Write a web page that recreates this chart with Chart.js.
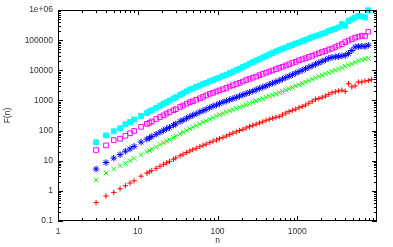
<!DOCTYPE html>
<html lang="en">
<head>
  <meta charset="UTF-8" />
  <title>F(n) vs n</title>
  <script src="https://cdn.jsdelivr.net/npm/chart.js"></script>
  <style>
    body {
      margin: 0;
      padding: 0;
      background: #fff;
    }
    .wrap {
      position: relative;
      width: 393px;
      height: 247px;
    }
  </style>
</head>
<body>
  <div class="wrap"><canvas id="fnChart"></canvas></div>
  <script>
    // window sizes n (shared by every series)
    const nValues = [3, 4, 5, 6, 7, 8, 9, 11, 13, 14, 15, 17, 19, 21, 23, 25, 28, 30, 34, 37,
      41, 45, 49, 54, 60, 66, 72, 80, 88, 97, 106, 117, 129, 142, 156, 172, 189, 208, 229, 252,
      277, 305, 335, 369, 406, 446, 491, 540, 594, 653, 719, 791, 870, 957, 1052, 1157, 1273, 1400, 1540, 1694,
      1864, 2050, 2255, 2481, 2729, 3002, 3302, 3632, 3995, 4395, 4834, 5318, 5850, 6435, 7078, 7786, 8564];

    const redF = [0.409, 0.673, 0.889, 1.17, 1.48, 1.82, 2.16, 3.08, 3.86, 4.26,
      4.66, 5.62, 6.54, 7.60, 8.51, 9.53, 11.2, 12.4, 14.6, 16.5,
      18.8, 21.0, 23.2, 25.9, 29.0, 32.5, 35.6, 39.9, 44.7, 49.2,
      53.9, 59.4, 66.1, 74.5, 82.8, 91.2, 101, 110, 123, 135,
      149, 163, 180, 194, 220, 238, 256, 276, 293, 333,
      382, 428, 468, 516, 578, 633, 708, 811, 944, 1096,
      1156, 1274, 1396, 1597, 1816, 1928, 2080, 2193, 2004, 3606,
      2812, 3033, 4093, 4093, 4416, 4584, 4943];

    const greenF = [2.31, 3.92, 5.30, 6.89, 8.20, 10.0, 12.0, 15.8, 19.8, 21.8,
      24.4, 29.0, 34.3, 39.3, 44.7, 50.0, 59.0, 65.0, 78.0, 87.9,
      102, 116, 130, 147, 167, 190, 211, 239, 270, 305,
      336, 371, 412, 451, 497, 544, 600, 656, 724, 793,
      875, 957, 1057, 1156, 1274, 1396, 1516, 1660, 1816, 2004,
      2208, 2455, 2705, 3033, 3319, 3690, 4093, 4550, 5058, 5623,
      6250, 6934, 7598, 8375, 9162, 10115, 11150, 12390, 13670, 14960,
      16520, 18490, 20700, 22290, 24040, 24950];

    const blueF = [5.30, 8.71, 12.2, 16.0, 20.7, 24.8, 29.9, 41.4, 51.9, 56.8,
      63.6, 75.6, 87.9, 102, 115, 128, 151, 167, 201, 225,
      256, 293, 321, 362, 412, 461, 505, 578, 647, 713,
      793, 875, 957, 1057, 1156, 1265, 1396, 1538, 1698, 1858,
      2049, 2276, 2512, 2748, 3033, 3396, 3741, 4159, 4584, 5140,
      5754, 6442, 7211, 8072, 9036, 10115, 11320, 12680, 14190, 15890,
      17790, 19910, 22290, 24950, 26920, 27990, 29040, 30130, 31330, 36390,
      45600, 59430, 61660, 63970, 61660, 68060];

    const magentaF = [22.7, 32.3, 48.1, 53.9, 67.6, 81.5, 97.7, 133, 167, 180,
      201, 243, 282, 321, 368, 412, 475, 516, 609, 682,
      782, 875, 944, 1057, 1183, 1324, 1472, 1660, 1790, 1986,
      2159, 2364, 2606, 2917, 3193, 3524, 3855, 4254, 4764, 5212,
      5702, 6194, 6934, 7598, 8375, 9036, 9954, 10910, 12220, 13150,
      14520, 15890, 17660, 19190, 21480, 23170, 25350, 27990, 30130, 33760,
      36980, 40740, 43950, 49200, 53090, 59430, 66530, 74470, 86500, 96830,
      108400, 121400, 130900, 141200, 139000, 190900];

    const cyanF = [41, 69, 95, 119, 163, 194, 234, 305, 385, 432,
      475, 572, 668, 785, 870, 1000, 1165, 1280, 1530, 1730,
      2000, 2290, 2500, 2830, 3130, 3540, 3840, 4330, 4750, 5350,
      5810, 6560, 7180, 8100, 9000, 10150, 11280, 12950, 14450, 16600,
      18700, 21250, 23400, 26700, 29600, 33900, 37600, 42500, 47200, 52200,
      56900, 64300, 69800, 77700, 84200, 93800, 102300, 113300, 125500, 136600,
      146000, 164900, 176200, 206500, 221000, 240500, 266500, 349000, 300500, 436000,
      491000, 567000, 638000, 612000, 570000, 990000];

    const xTickValues = [1, 10, 100, 1000];
    const xTickLabels = ['1', '10', '100', '1000'];
    const yTickValues = [0.1, 1, 10, 100, 1000, 10000, 100000, 1000000];
    const yTickLabels = ['0.1', '1', '10', '100', '1000', '10000', '100000', '1e+06'];

    const toPoints = arr => arr.map((v, i) => ({ x: nValues[i], y: v }));

    // gnuplot style frame: border plus inward major/minor tics on all four sides
    const framePlugin = {
      id: 'frame',
      afterDraw(chart) {
        const { ctx, chartArea: a, scales: { x, y } } = chart;
        ctx.save();
        ctx.strokeStyle = '#000';
        ctx.lineWidth = 1;
        ctx.strokeRect(Math.round(a.left) + 0.5, Math.round(a.top) + 0.5,
          Math.round(a.right - a.left) - 1, Math.round(a.bottom - a.top) - 1);

        const tick = (px, len, horiz) => {
          ctx.beginPath();
          if (horiz) {
            ctx.moveTo(px, a.bottom); ctx.lineTo(px, a.bottom - len);
            ctx.moveTo(px, a.top); ctx.lineTo(px, a.top + len);
          } else {
            ctx.moveTo(a.left, px); ctx.lineTo(a.left + len, px);
            ctx.moveTo(a.right, px); ctx.lineTo(a.right - len, px);
          }
          ctx.stroke();
        };
        const decades = (min, max) => {
          const out = [];
          for (let d = min; d < max * 0.999; d *= 10) out.push(d);
          return out;
        };
        decades(x.min, x.max).forEach(d => {
          tick(Math.round(x.getPixelForValue(d)) + 0.5, 5, true);
          for (let k = 2; k <= 9; k++) tick(Math.round(x.getPixelForValue(d * k)) + 0.5, 3, true);
        });
        decades(y.min, y.max).forEach(d => {
          tick(Math.round(y.getPixelForValue(d)) + 0.5, 5, false);
          for (let k = 2; k <= 9; k++) tick(Math.round(y.getPixelForValue(d * k)) + 0.5, 3, false);
        });
        ctx.restore();
      }
    };

    const labelFont = { family: "'Liberation Sans', Arial, sans-serif", size: 8.5 };

    new Chart(document.getElementById('fnChart'), {
      type: 'scatter',
      data: {
        datasets: [
          { label: 'red', data: toPoints(redF), pointStyle: 'cross', pointRadius: 2.7,
            borderColor: '#ff0000', backgroundColor: '#ff0000', pointBorderWidth: 1 },
          { label: 'green', data: toPoints(greenF), pointStyle: 'crossRot', pointRadius: 3.3,
            borderColor: '#00ff00', backgroundColor: '#00ff00', pointBorderWidth: 1 },
          { label: 'blue', data: toPoints(blueF), pointStyle: 'star', pointRadius: 3.3,
            borderColor: '#0000ff', backgroundColor: '#0000ff', pointBorderWidth: 1 },
          { label: 'magenta', data: toPoints(magentaF), pointStyle: 'rect', pointRadius: 3.3,
            borderColor: '#ff00ff', backgroundColor: 'rgba(0,0,0,0)', pointBorderWidth: 1 },
          { label: 'cyan', data: toPoints(cyanF), pointStyle: 'rect', pointRadius: 3.4,
            borderColor: '#00ffff', backgroundColor: '#00ffff', pointBorderWidth: 1 }
        ].map(d => Object.assign(d, { showLine: false, clip: false }))
      },
      options: {
        responsive: true,
        maintainAspectRatio: false,
        animation: false,
        layout: { padding: { top: 7, right: 16, left: 0, bottom: 0 } },
        plugins: {
          legend: { display: false },
          tooltip: { enabled: false }
        },
        scales: {
          x: {
            type: 'logarithmic',
            min: 1,
            max: 10000,
            grid: { display: false, drawTicks: false },
            border: { display: false },
            afterBuildTicks: axis => { axis.ticks = xTickValues.map(v => ({ value: v })); },
            afterFit: axis => { axis.height = 26; },
            ticks: {
              autoSkip: false,
              maxRotation: 0,
              padding: 6,
              color: '#333',
              font: labelFont,
              callback: (v, i) => xTickLabels[i]
            },
            title: { display: true, text: 'n', color: '#333', font: labelFont, padding: { top: 0, bottom: 1 } }
          },
          y: {
            type: 'logarithmic',
            min: 0.1,
            max: 1000000,
            grid: { display: false, drawTicks: false },
            border: { display: false },
            afterBuildTicks: axis => { axis.ticks = yTickValues.map(v => ({ value: v })); },
            afterFit: axis => { axis.width = 58; },
            ticks: {
              autoSkip: false,
              padding: 5,
              color: '#333',
              font: labelFont,
              callback: (v, i) => yTickLabels[i]
            },
            title: { display: true, text: 'F(n)', color: '#333', font: labelFont, padding: { top: 3, bottom: 0 } }
          }
        }
      },
      plugins: [framePlugin]
    });
  </script>
</body>
</html>
